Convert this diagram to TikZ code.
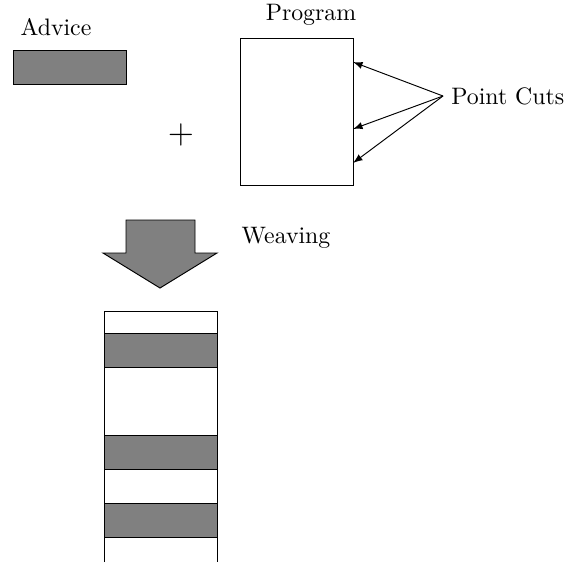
\documentclass[tikz,border=0pt]{standalone}
\usetikzlibrary{calc}
\begin{document}
\begin{tikzpicture}[x=0.42pt,y=-0.42pt,
    block/.style={draw,fill=gray},
    link/.style={-latex}]
  \path[use as bounding box] (0,0) rectangle (571,562);

  % advice and program
  \draw[block] (13,50) rectangle (126,84);
  \node (advice) at (56,27) {Advice};
  \node (plus) at (181,135) {\Large$+$};
  \draw (240,38) rectangle (353,185);
  \node (program) at (311,15) {Program};

  \node[anchor=west] (cuts) at (443,96) {Point Cuts};
  \foreach[count=\i] \y in {62,129,163} {
    \coordinate (c\i) at (353,\y);
    \draw[link] (cuts.west) -- (c\i);
  }

  % weaving
  \draw[block] (126,220) -- (195,220) -- (195,253) -- (217,253) -- (160,288)
    -- (103,253) -- (126,253) -- cycle;
  \node (weaving) at (286,238) {Weaving};

  % woven program
  \draw (104,562) -- (104,311) -- (217,311) -- (217,562);
  \foreach \y in {333,435,503} {
    \draw[block] (104,\y) rectangle ++(113,34);
  }
\end{tikzpicture}
\end{document}
